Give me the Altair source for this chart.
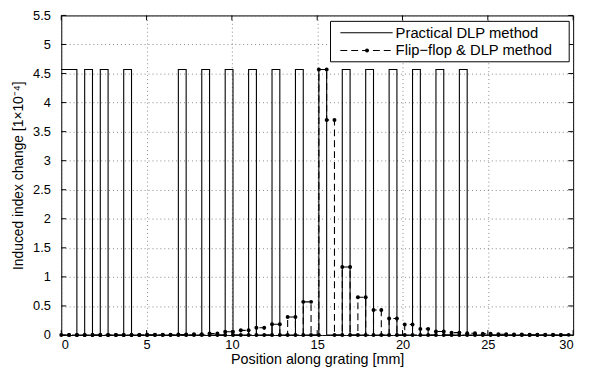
import altair as alt
import pandas as pd

# ---- data ----
section_width_mm = 0.4575          # grating section length
practical = [
    4.57, 4.57, 0, 4.57, 0, 4.57, 0, 0, 4.57, 0,
    0, 0, 0, 0, 0, 4.57, 0, 0, 4.57, 0,
    0, 4.57, 0, 0, 4.57, 0, 0, 4.57, 0, 0,
    4.57, 0, 0, 4.57, 0, 0, 4.57, 0, 0, 4.57,
    0, 0, 4.57, 0, 0, 4.57, 0, 0, 4.57, 0,
    0, 4.57, 0, 0, 0, 0, 0, 0, 0, 0,
    0, 0, 0, 0, 0]
flipflop = [
    0, 0, 0, 0, 0, 0, 0, 0, 0, 0,
    0, 0.004, 0, 0.006, 0, 0.009, 0, 0.014, 0, 0.025,
    0, 0.055, 0, 0.08, 0, 0.125, 0, 0.185, 0, 0.31,
    0, 0.57, 0, 4.57, 3.70, 0, 1.17, 0, 0.65, 0,
    0.43, 0, 0.285, 0, 0.18, 0, 0.105, 0, 0.06, 0,
    0.04, 0, 0.03, 0, 0.02, 0, 0.013, 0, 0.008, 0,
    0.005, 0, 0.003, 0, 0.002]
x_ticks = [0, 5, 10, 15, 20, 25, 30]
y_ticks = [0, 0.5, 1, 1.5, 2, 2.5, 3, 3.5, 4, 4.5, 5, 5.5]
legend_labels = ["Practical DLP method", "Flip\u2212flop & DLP method"]
x_title = "Position along grating [mm]"
y_title = "Induced index change [1\u00d710\u207b\u2074]"

# ---- build tables ----
n = len(practical)
xs = [k * section_width_mm for k in range(n + 1)]
df_prac = pd.DataFrame({"x": xs, "y": practical + [practical[-1]]})
df_ff = pd.DataFrame({"x": xs, "y": flipflop + [flipflop[-1]]})
pts_x, pts_y = [], []
for k in range(n + 1):
    if k > 0:
        pts_x.append(xs[k]); pts_y.append(flipflop[k - 1])
    if k < n:
        pts_x.append(xs[k]); pts_y.append(flipflop[k])
df_pts = pd.DataFrame({"x": pts_x, "y": pts_y})

W, H = 519, 324
FONT = "Liberation Sans"

xscale = alt.Scale(domain=[0, 30], nice=False, zero=False)
yscale = alt.Scale(domain=[0, 5.5], nice=False, zero=False)

x_axis = alt.Axis(values=x_ticks, title=x_title, grid=True, ticks=False, domain=False,
                  labelPadding=4, titlePadding=1, format="~g", titleFontSize=14.5)
y_axis = alt.Axis(values=y_ticks, title=y_title, grid=True, ticks=False, domain=False,
                  labelPadding=11, titlePadding=7, format="~g", titleFontSize=14)

def X(f):
    return alt.X(f, scale=xscale, axis=x_axis)

def Y(f):
    return alt.Y(f, scale=yscale, axis=y_axis)

prac = alt.Chart(df_prac).mark_line(interpolate="step-after", color="black",
                                    strokeWidth=1.1).encode(x=X("x:Q"), y=Y("y:Q"))

ff = alt.Chart(df_ff).mark_line(interpolate="step-after", color="black",
                                strokeWidth=1.1, strokeDash=[7, 4]).encode(
    x=X("x:Q"), y=Y("y:Q"))

pts = alt.Chart(df_pts).mark_circle(color="black", size=16, opacity=1).encode(
    x=X("x:Q"), y=Y("y:Q"))

# inward tick marks on all four sides
dfx = pd.DataFrame({"x": x_ticks})
dfy = pd.DataFrame({"y": y_ticks})
tk = dict(color="black", strokeWidth=1)
tb = alt.Chart(dfx).mark_rule(**tk).encode(
    x=X("x:Q"), y=alt.value(H), y2=alt.value(H - 5))
tt = alt.Chart(dfx).mark_rule(**tk).encode(
    x=X("x:Q"), y=alt.value(0), y2=alt.value(5))
tl = alt.Chart(dfy).mark_rule(**tk).encode(
    y=Y("y:Q"), x=alt.value(0), x2=alt.value(5))
tr = alt.Chart(dfy).mark_rule(**tk).encode(
    y=Y("y:Q"), x=alt.value(W), x2=alt.value(W - 5))

# legend
one = pd.DataFrame({"a": [0]})
box = alt.Chart(one).mark_rect(fill="white", stroke="black", strokeWidth=1).encode(
    x=alt.value(273), x2=alt.value(515), y=alt.value(6), y2=alt.value(47))
r1y, r2y = 17.5, 35.5
l1 = alt.Chart(one).mark_rule(color="black", strokeWidth=1.1).encode(
    x=alt.value(283), x2=alt.value(336), y=alt.value(r1y))
l2 = alt.Chart(one).mark_rule(color="black", strokeWidth=1.1, strokeDash=[7, 4]).encode(
    x=alt.value(283), x2=alt.value(336), y=alt.value(r2y))
m2 = alt.Chart(one).mark_circle(color="black", size=16, opacity=1).encode(
    x=alt.value(310), y=alt.value(r2y))
t1 = alt.Chart(pd.DataFrame({"t": [legend_labels[0]]})).mark_text(
    align="left", baseline="middle", font=FONT, fontSize=15, color="black").encode(
    x=alt.value(339), y=alt.value(r1y), text="t:N")
t2 = alt.Chart(pd.DataFrame({"t": [legend_labels[1]]})).mark_text(
    align="left", baseline="middle", font=FONT, fontSize=15, color="black").encode(
    x=alt.value(339), y=alt.value(r2y), text="t:N")

chart = alt.layer(prac, ff, pts, tb, tt, tl, tr, box, l1, l2, m2, t1, t2).properties(
    width=W, height=H,
    autosize=alt.AutoSizeParams(type="none"),
    padding={"left": 54, "top": 5, "right": 10, "bottom": 36},
).configure_view(stroke="black", strokeWidth=1).configure_axis(
    labelFont=FONT, labelFontSize=13, labelColor="black",
    titleFont=FONT, titleColor="black", titleFontWeight="normal",
    gridColor="#555", gridDash=[1, 3], gridWidth=1, gridOpacity=0.7,
)

chart.save("out.html", embed_options={"renderer": "svg", "actions": False})
